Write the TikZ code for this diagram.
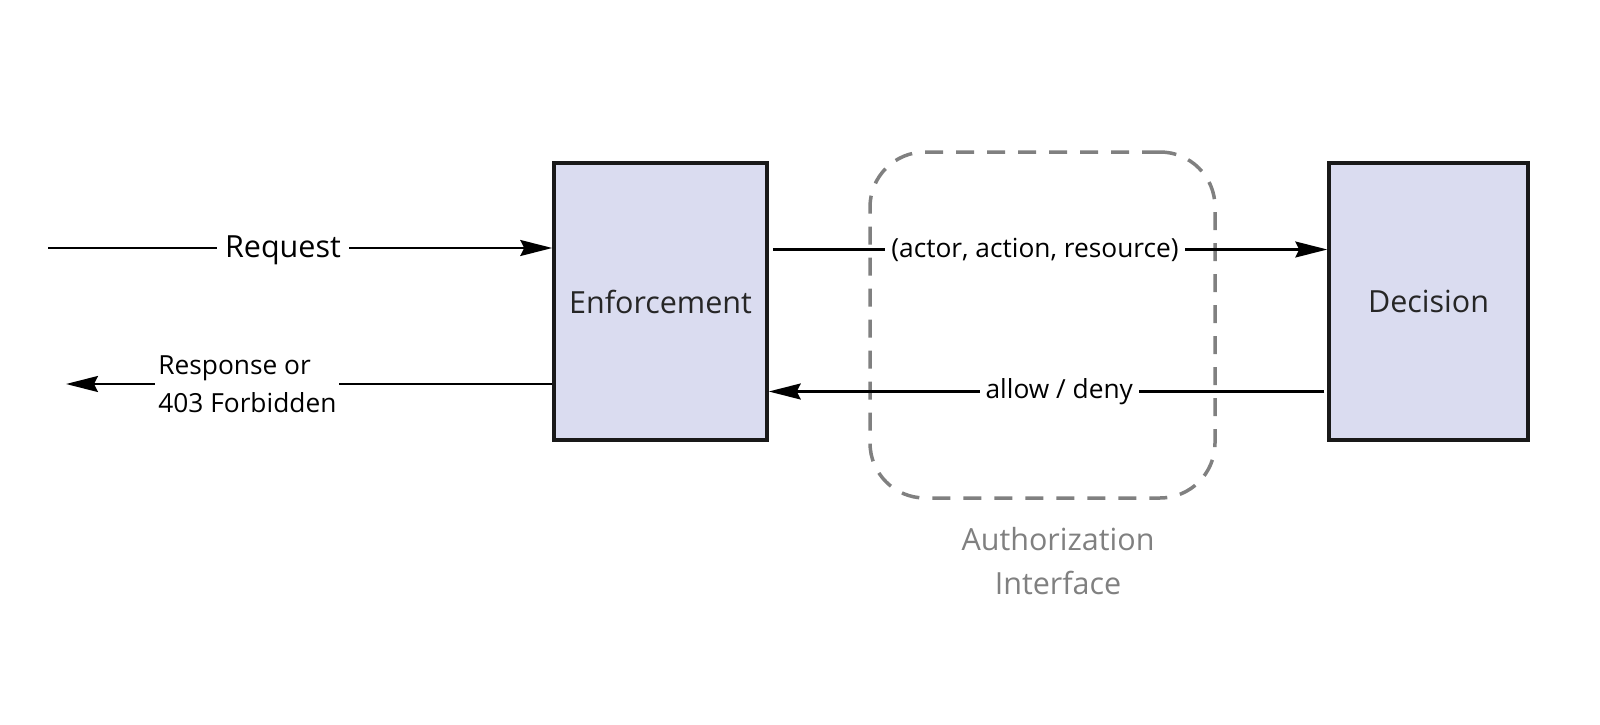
\documentclass[tikz,border=0pt]{standalone}
\usepackage{fontspec}
\setmainfont{Open Sans}
\usetikzlibrary{arrows.meta,calc}
\definecolor{boxfill}{HTML}{DADCF0}
\definecolor{ifacegray}{HTML}{808080}
\begin{document}
\begin{tikzpicture}[x=1pt,y=-1pt,
  comp/.style={draw=black!90, line width=3.5pt, fill=boxfill, minimum width=213pt, minimum height=277pt, inner sep=0pt, font=\fontsize{30.5}{36}\selectfont, text=black!85},
  conn/.style={line width=2.2pt, -{Stealth[length=32pt,width=16pt,inset=4pt]}},
  lbl/.style={fill=white, inner xsep=6pt, inner ysep=2pt, font=\fontsize{26.3}{31}\selectfont},
  biglbl/.style={fill=white, inner xsep=8pt, inner ysep=2pt, font=\fontsize{30.5}{36}\selectfont},
  iface/.style={draw=ifacegray, line width=3.5pt, dash pattern=on 18pt off 13pt, rounded corners=55pt, minimum width=345pt, minimum height=346pt, inner sep=0pt}
]
\useasboundingbox (0,0) rectangle (1600,725);
\node[iface] (ai) at (1042.5,325) {};
\node[comp] (enf) at (660.5,301.5) {Enforcement};
\node[comp, minimum width=199pt] (dec) at (1428.5,301.5) {Decision};
\node[text=ifacegray, align=center, font=\fontsize{30.5}{44}\selectfont] (ailbl) at (1058,561) {Authorization\\Interface};
\coordinate (reqstart) at (48,248);
\coordinate (respend) at (66,384);
% Request
\draw[conn] (reqstart) -- node[biglbl, pos=0.466, yshift=-2pt] (reqlbl) {Request} (reqstart -| enf.west);
% Response
\draw[conn] (respend -| enf.west) -- node[lbl, pos=0.627, align=left, font=\fontsize{26.3}{38}\selectfont, inner xsep=3pt] (resplbl) {Response or\\403 Forbidden} (respend);
% query
\draw[conn] ($(enf.east)+(4,-52)$) coordinate (q1) -- node[lbl, pos=0.473] (qlbl) {(actor, action, resource)} (q1 -| dec.west);
% answer
\draw[conn] ($(dec.west)+(-3,90)$) coordinate (a1) -- node[lbl, pos=0.477] (albl) {allow / deny} (a1 -| enf.east);
\end{tikzpicture}
\end{document}
